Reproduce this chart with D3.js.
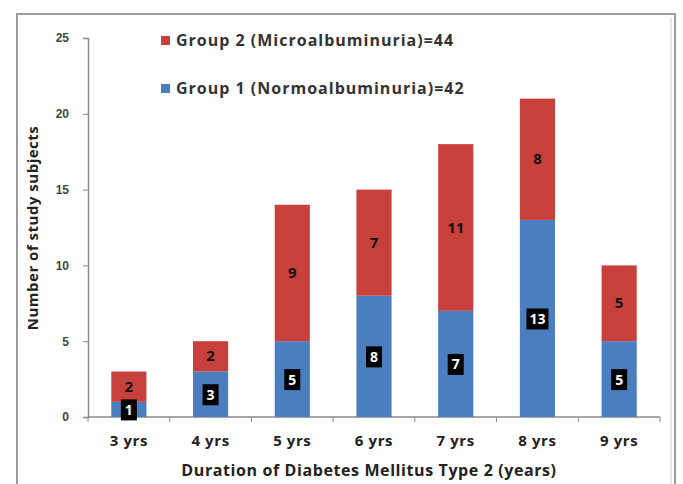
<!DOCTYPE html>
<html><head><meta charset="utf-8">
<script src="https://cdn.jsdelivr.net/npm/d3@7/dist/d3.min.js"></script>
<style>body{margin:0;background:#fff;}svg{display:block;font-family:"Open Sans","DejaVu Sans",sans-serif;}</style>
</head><body>
<svg id="c" width="683" height="484"></svg>
<script>
const categories = ["3 yrs","4 yrs","5 yrs","6 yrs","7 yrs","8 yrs","9 yrs"];
const group1 = [1,3,5,8,7,13,5];
const group2 = [2,2,9,7,11,8,5];
const seriesNames = ["Group 1 (Normoalbuminuria)=42","Group 2 (Microalbuminuria)=44"];
const yTicks = [0,5,10,15,20,25];
const colors = ["#4a7ebf","#c8403b"];

const svg = d3.select("#c");
// frame
svg.append("path").attr("d","M17,484 V14 H675 V484").attr("fill","none").attr("stroke","#9a9a9a").attr("stroke-width",2);
svg.append("line").attr("x1",671).attr("x2",671).attr("y1",18).attr("y2",484).attr("stroke","#d0d0d0").attr("stroke-width",1);

const x = d3.scaleBand().domain(categories).range([88,660]).paddingInner(0.57).paddingOuter(0.285);
const y = d3.scaleLinear().domain([0,25]).range([417,38]);

const data = categories.map((c,i)=>({cat:c, g1:group1[i], g2:group2[i]}));
const stack = d3.stack().keys(["g1","g2"])(data);

// y axis
const ya = svg.append("g").attr("transform","translate(88,0)").call(d3.axisLeft(y).tickValues(yTicks).tickSize(5).tickPadding(14));
ya.select(".domain").attr("stroke","#8a8a8a").attr("stroke-width",1.5);
ya.selectAll(".tick line").attr("stroke","#8a8a8a");
ya.selectAll("text").attr("font-size",12).attr("fill","#444").attr("font-weight","bold");

// x axis
const xa = svg.append("g").attr("transform","translate(0,417)");
xa.append("line").attr("x1",88).attr("x2",660).attr("stroke","#8a8a8a").attr("stroke-width",1.5);
const step = x.step();
const bounds = d3.range(categories.length+1).map(i=>88 + i*step);
xa.selectAll(".tk").data(bounds).join("line").attr("x1",d=>d).attr("x2",d=>d).attr("y1",0).attr("y2",5).attr("stroke","#8a8a8a");
xa.selectAll(".lbl").data(categories).join("text")
  .attr("x",d=>x(d)+x.bandwidth()/2).attr("y",29).attr("text-anchor","middle")
  .attr("font-size",15).attr("letter-spacing",0.6).attr("font-weight","bold").attr("fill","#222").text(d=>d);

// bars
stack.forEach((s,si)=>{
  svg.append("g").selectAll("rect").data(s).join("rect")
    .attr("x",d=>x(d.data.cat)).attr("width",x.bandwidth())
    .attr("y",d=>y(d[1])).attr("height",d=>y(d[0])-y(d[1]))
    .attr("fill",colors[si]);
});

// labels
const g1 = svg.append("g");
stack[0].forEach(d=>{
  const cx = x(d.data.cat)+x.bandwidth()/2, cy = (y(d[0])+y(d[1]))/2;
  const v = d[1]-d[0];
  const w = v>=10?22:16;
  g1.append("rect").attr("x",cx-w/2).attr("y",cy-10).attr("width",w).attr("height",21).attr("fill","#000");
  g1.append("text").attr("x",cx).attr("y",cy+5.5).attr("text-anchor","middle").attr("font-size",14).attr("font-weight","bold").attr("fill","#fff").text(v);
});
stack[1].forEach(d=>{
  const cx = x(d.data.cat)+x.bandwidth()/2, cy = (y(d[0])+y(d[1]))/2;
  g1.append("text").attr("x",cx).attr("y",cy+5).attr("text-anchor","middle").attr("font-size",15).attr("font-weight","bold").attr("fill","#111").text(d[1]-d[0]);
});

// legend
const leg = [{n:seriesNames[1],c:colors[1],y:40},{n:seriesNames[0],c:colors[0],y:88}];
leg.forEach(l=>{
  svg.append("rect").attr("x",161).attr("y",l.y-4).attr("width",9).attr("height",9).attr("fill",l.c);
  svg.append("text").attr("x",176).attr("y",l.y+6).attr("font-size",16).attr("letter-spacing",1).attr("font-weight","bold").attr("fill","#333").text(l.n);
});

// axis titles
svg.append("text").attr("x",369).attr("y",476).attr("text-anchor","middle").attr("font-size",16).attr("letter-spacing",0.6).attr("font-weight","bold").attr("fill","#222").text("Duration of Diabetes Mellitus Type 2 (years)");
svg.append("text").attr("transform","translate(38,228) rotate(-90)").attr("text-anchor","middle").attr("font-size",15).attr("letter-spacing",0.5).attr("font-weight","bold").attr("fill","#222").text("Number of study subjects");
</script>
</body></html>
